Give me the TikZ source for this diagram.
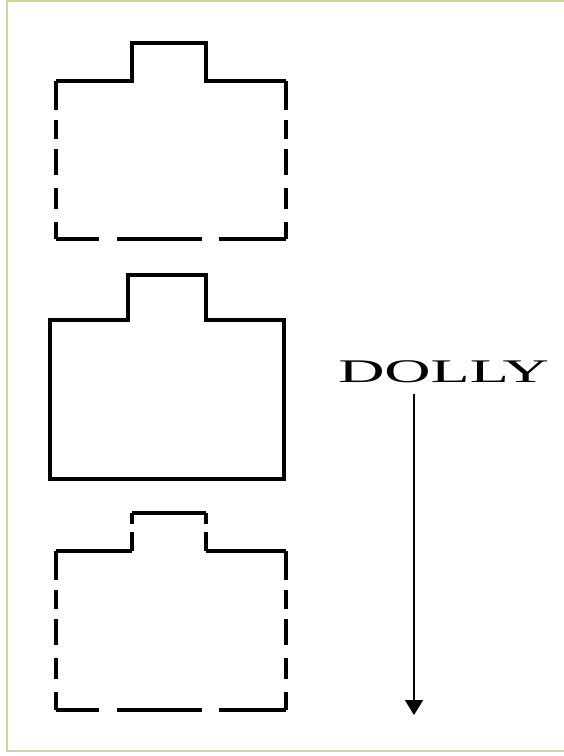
\documentclass[tikz,border=0pt]{standalone}
\usepackage{fontspec}
\setmainfont{Liberation Serif}
\usetikzlibrary{arrows.meta}
\definecolor{framecol}{HTML}{D6D29C}
\tikzset{
  outline/.style={line width=3.2pt, line cap=square, line join=miter},
  sidedash/.style={outline, dash pattern=on 28.8pt off 10.2pt on 18.8pt off 10.2pt on 25.8pt off 13.2pt on 20.8pt off 13.2pt on 60pt},
  basedash/.style={outline, dash pattern=on 42.8pt off 18.2pt on 84.8pt off 17.2pt on 100pt},
  tabdash/.style={outline, dash pattern=on 10.8pt off 8.2pt on 40pt},
  label/.style={font=\fontsize{33}{33}\selectfont, xscale=1.94, inner sep=0pt},
}
\begin{document}
\begin{tikzpicture}[x=1pt,y=-1pt]
  \useasboundingbox (0,0) rectangle (564,756);
  \draw[framecol, line width=2.5pt] (564,1) -- (7,1) -- (7,751) -- (564,751);
  % upper shape
  \coordinate (A1) at (56,81);
  \coordinate (B1) at (286,81);
  \coordinate (C1) at (286,239);
  \coordinate (D1) at (56,239);
  \draw[outline] (A1) -- (132,81) -- (132,43) -- (206,43) -- (206,81) -- (B1);
  \draw[sidedash] (A1) -- (D1);
  \draw[sidedash] (B1) -- (C1);
  \draw[basedash] (D1) -- (C1);
  % middle shape
  \draw[outline] (50,320) -- (128,320) -- (128,275) -- (206,275) -- (206,320)
    -- (284,320) -- (284,479) -- (50,479) -- cycle;
  % lower shape
  \coordinate (A3) at (56,551);
  \coordinate (B3) at (286,551);
  \coordinate (C3) at (286,710);
  \coordinate (D3) at (56,710);
  \draw[outline] (A3) -- (132,551);
  \draw[outline] (206,551) -- (B3);
  \draw[outline] (132,513) -- (206,513);
  \draw[tabdash] (132,513) -- (132,551);
  \draw[tabdash] (206,513) -- (206,551);
  \draw[sidedash] (A3) -- (D3);
  \draw[sidedash] (B3) -- (C3);
  \draw[basedash] (D3) -- (C3);
  % dolly arrow
  \node[label, anchor=base] (dolly) at (443.5,382) {DOLLY};
  \coordinate (tip) at (414,715);
  \draw[line width=1.8pt, -{Triangle[length=15pt,width=18pt]}, shorten <=11pt]
    (dolly.south -| tip) -- (tip);
\end{tikzpicture}
\end{document}
